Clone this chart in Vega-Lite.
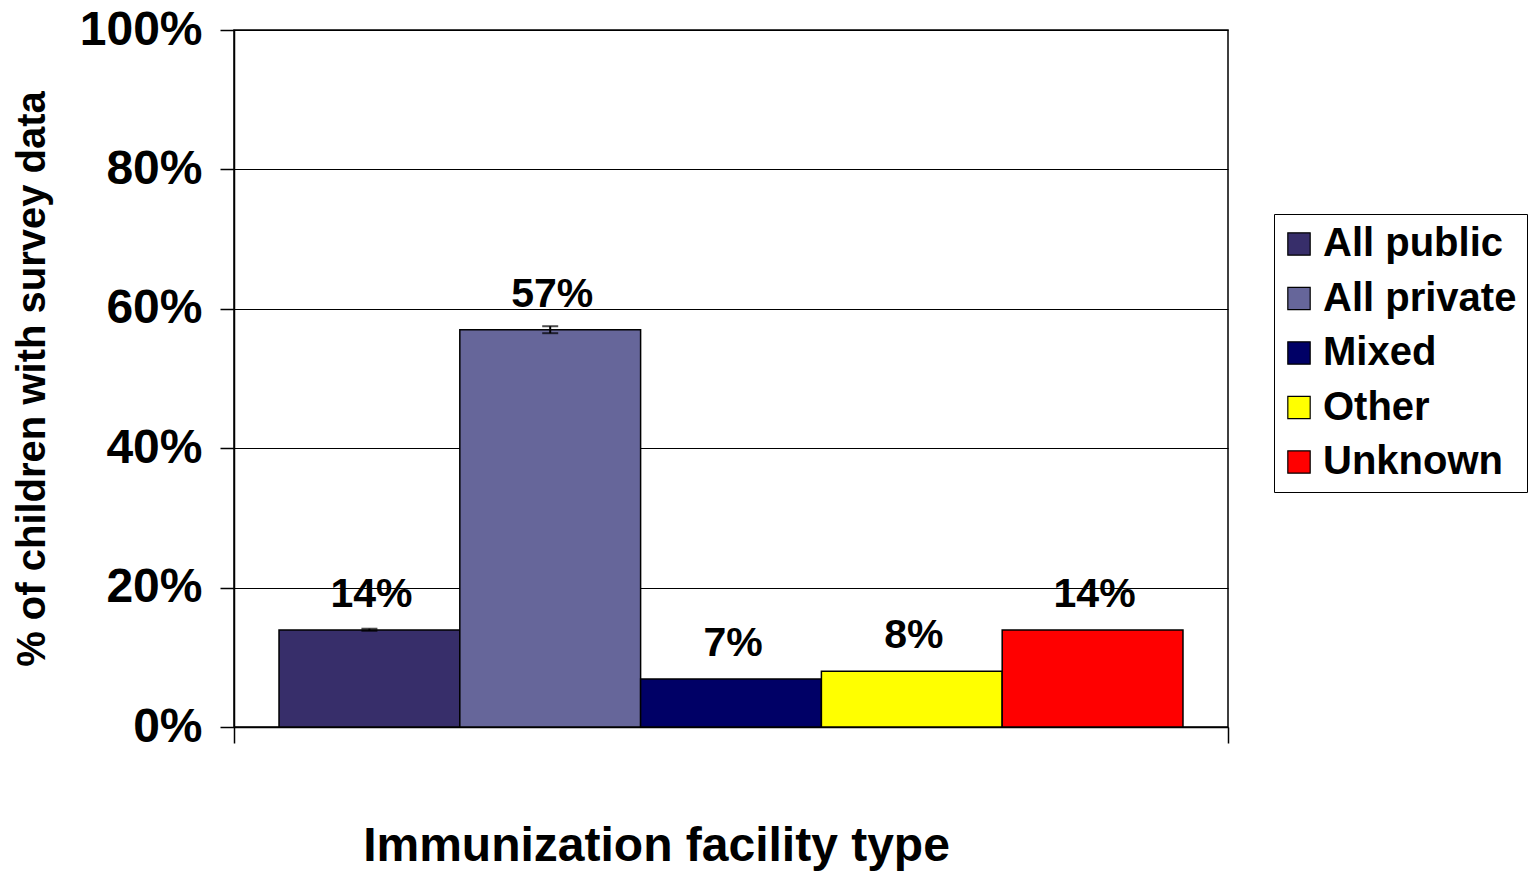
{
  "$schema": "https://vega.github.io/schema/vega-lite/v6.json",
  "autosize": {"type": "none"},
  "width": 994,
  "height": 697,
  "padding": {"left": 234, "top": 30, "right": 307, "bottom": 144},
  "background": "white",
  "config": {
    "view": {"stroke": "black", "strokeWidth": 1.5},
    "font": "Liberation Sans"
  },
  "datasets": {
    "bars": [
      {"type": "All public", "value": 0.139, "label": "14%", "lo": 0.138, "hi": 0.141},
      {"type": "All private", "value": 0.570, "label": "57%", "lo": 0.565, "hi": 0.575},
      {"type": "Mixed", "value": 0.069, "label": "7%"},
      {"type": "Other", "value": 0.080, "label": "8%"},
      {"type": "Unknown", "value": 0.139, "label": "14%"}
    ],
    "edges": [{"e": 0}, {"e": 1}]
  },
  "layer": [
    {
      "data": {"name": "bars"},
      "layer": [
        {
          "mark": {"type": "bar", "stroke": "black", "strokeWidth": 1.5},
          "encoding": {
            "x": {"field": "type", "type": "nominal", "sort": null,
                  "scale": {"paddingInner": 0, "paddingOuter": 0.249},
                  "axis": null},
            "y": {"field": "value", "type": "quantitative",
                  "scale": {"domain": [0, 1]},
                  "axis": {
                    "values": [0, 0.2, 0.4, 0.6, 0.8, 1],
                    "format": ".0%",
                    "title": "% of children with survey data",
                    "titleFontSize": 40, "titleFontWeight": "bold", "titleColor": "black",
                    "titlePadding": 27,
                    "labelFontSize": 48, "labelFontWeight": "bold", "labelColor": "black",
                    "labelPadding": 18,
                    "tickColor": "black", "tickSize": 14, "tickWidth": 1.5,
                    "domainColor": "black", "domainWidth": 1.5,
                    "grid": true, "gridColor": "black", "gridWidth": 1.2, "gridOpacity": 1
                  }},
            "color": {"field": "type", "type": "nominal", "sort": null,
                      "scale": {"domain": ["All public", "All private", "Mixed", "Other", "Unknown"],
                                "range": ["#372E6A", "#66669A", "#000066", "#FFFF00", "#FF0000"]},
                      "legend": {
                        "title": null, "orient": "none", "legendX": 1040, "legendY": 184,
                        "strokeColor": "black", "padding": 10,
                        "labelFontSize": 40, "labelFontWeight": "bold", "labelColor": "black",
                        "symbolType": "square", "symbolSize": 500, "symbolStrokeColor": "black",
                        "symbolStrokeWidth": 1.2, "symbolOpacity": 1, "symbolOffset": -5,
                        "rowPadding": 14.5, "labelOffset": 4, "labelLimit": 400
                      }}
          }
        },
        {
          "mark": {"type": "rule", "color": "black", "strokeWidth": 2},
          "encoding": {
            "x": {"field": "type", "type": "nominal", "sort": null},
            "y": {"field": "lo", "type": "quantitative"},
            "y2": {"field": "hi"}
          }
        },
        {
          "mark": {"type": "tick", "color": "black", "thickness": 2, "size": 16},
          "encoding": {
            "x": {"field": "type", "type": "nominal", "sort": null},
            "y": {"field": "lo", "type": "quantitative"}
          }
        },
        {
          "mark": {"type": "tick", "color": "black", "thickness": 2, "size": 16},
          "encoding": {
            "x": {"field": "type", "type": "nominal", "sort": null},
            "y": {"field": "hi", "type": "quantitative"}
          }
        },
        {
          "mark": {"type": "text", "baseline": "bottom", "dy": -14, "dx": 2, "fontSize": 41, "fontWeight": "bold", "color": "black"},
          "encoding": {
            "x": {"field": "type", "type": "nominal", "sort": null},
            "y": {"field": "value", "type": "quantitative"},
            "text": {"field": "label"}
          }
        }
      ]
    },
    {
      "data": {"name": "edges"},
      "mark": {"type": "point", "opacity": 0},
      "encoding": {
        "x": {"field": "e", "type": "quantitative", "scale": {"domain": [0, 1]},
              "axis": {
                "orient": "bottom",
                "values": [0, 1], "labels": false, "domain": true, "domainColor": "black", "domainWidth": 1.5,
                "tickColor": "black", "tickSize": 16, "tickWidth": 1.5,
                "title": "Immunization facility type",
                "titleFontSize": 48, "titleFontWeight": "bold", "titleColor": "black",
                "titleX": 422, "titleY": 133, "titleBaseline": "alphabetic", "titleAlign": "center"
              }}
      }
    }
  ],
  "resolve": {"scale": {"x": "independent"}}
}
